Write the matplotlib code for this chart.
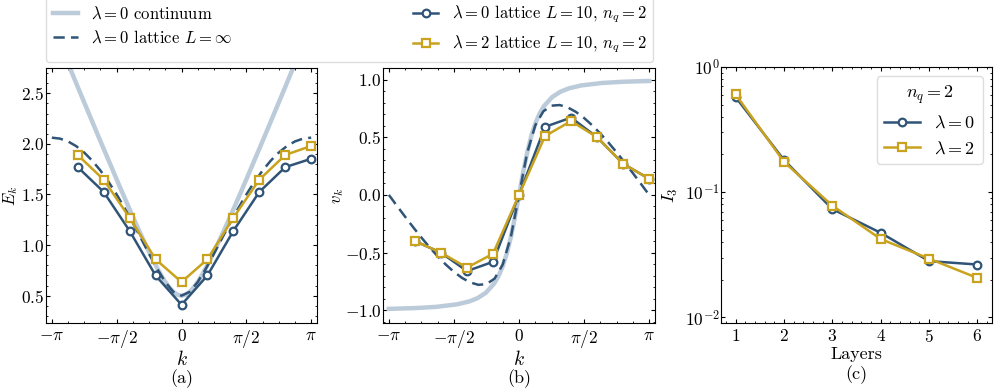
import numpy as np
import matplotlib
matplotlib.use("Agg")
import matplotlib.pyplot as plt
from matplotlib.ticker import MultipleLocator, AutoMinorLocator

plt.rcParams['font.family'] = ['cmr10', 'DejaVu Serif']
plt.rcParams['mathtext.fontset'] = 'cm'
plt.rcParams['axes.formatter.use_mathtext'] = True
plt.rcParams['font.size'] = 13
plt.rcParams['xtick.direction'] = 'in'
plt.rcParams['ytick.direction'] = 'in'
plt.rcParams['xtick.top'] = True
plt.rcParams['ytick.right'] = True
plt.rcParams['xtick.minor.visible'] = True
plt.rcParams['ytick.minor.visible'] = True
plt.rcParams['xtick.major.size'] = 3
plt.rcParams['ytick.major.size'] = 3
plt.rcParams['xtick.minor.size'] = 1.5
plt.rcParams['ytick.minor.size'] = 1.5

PI = np.pi

# continuum curves (lambda = 0)
k_cont = [-3.14159, -2.5, -2.0, -1.5, -1.2, -1.0, -0.8, -0.6, -0.5, -0.4, -0.3, -0.2, -0.1,
          0.0, 0.1, 0.2, 0.3, 0.4, 0.5, 0.6, 0.8, 1.0, 1.2, 1.5, 2.0, 2.5, 3.14159]
E_cont = [3.1811, 2.5495, 2.0616, 1.5811, 1.3, 1.1180, 0.9434, 0.7810, 0.7071, 0.6403, 0.5831, 0.5385, 0.5099,
          0.5, 0.5099, 0.5385, 0.5831, 0.6403, 0.7071, 0.7810, 0.9434, 1.1180, 1.3, 1.5811, 2.0616, 2.5495, 3.1811]
v_cont = [-0.9876, -0.9806, -0.9701, -0.9487, -0.9231, -0.8944, -0.8480, -0.7682, -0.7071, -0.6247, -0.5145, -0.3714, -0.1961,
          0.0, 0.1961, 0.3714, 0.5145, 0.6247, 0.7071, 0.7682, 0.8480, 0.8944, 0.9231, 0.9487, 0.9701, 0.9806, 0.9876]

# infinite lattice curves (lambda = 0), k = j*pi/16
k_inf = [j * PI / 16 for j in range(-16, 17)]
E_inf = [2.0616, 2.0522, 2.0243, 1.9781, 1.9142, 1.8333, 1.7365, 1.6249, 1.5, 1.3638, 1.2185, 1.0672, 0.9142,
         0.7662, 0.6342, 0.5371, 0.5, 0.5371, 0.6342, 0.7662, 0.9142, 1.0672, 1.2185, 1.3638, 1.5, 1.6249,
         1.7365, 1.8333, 1.9142, 1.9781, 2.0243, 2.0522, 2.0616]
v_inf = [0.0, -0.0951, -0.1890, -0.2809, -0.3694, -0.4535, -0.5320, -0.6036, -0.6667, -0.7192, -0.7582, -0.7791,
         -0.7735, -0.7251, -0.6034, -0.3632, 0.0, 0.3632, 0.6034, 0.7251, 0.7735, 0.7791, 0.7582, 0.7192, 0.6667,
         0.6036, 0.5320, 0.4535, 0.3694, 0.2809, 0.1890, 0.0951, 0.0]

# L = 10 lattice, n_q = 2
k_lat = [j * PI / 5 for j in range(-4, 6)]
E_lam0 = [1.77, 1.525, 1.14, 0.70, 0.41, 0.70, 1.14, 1.525, 1.77, 1.853]
E_lam2 = [1.89, 1.646, 1.27, 0.86, 0.635, 0.86, 1.27, 1.646, 1.89, 1.98]
v_lam0 = [-0.40, -0.50, -0.66, -0.58, 0.0, 0.59, 0.67, 0.50, 0.27, 0.14]
v_lam2 = [-0.40, -0.50, -0.63, -0.51, 0.0, 0.51, 0.64, 0.50, 0.27, 0.14]

# I3 vs layers
layers = [1, 2, 3, 4, 5, 6]
I3_lam0 = [0.576, 0.181, 0.0733, 0.0473, 0.0281, 0.0264]
I3_lam2 = [0.606, 0.175, 0.078, 0.0422, 0.0294, 0.0206]

c_cont = '#bccbda'
c_blue = '#2f5477'
c_gold = '#c9a21e'

W, H = 997, 391
fig = plt.figure(figsize=(W / 100, H / 100), dpi=100)

def box(l, r, t, b):
    return [l / W, 1 - b / H, (r - l) / W, (b - t) / H]

axa = fig.add_axes(box(46, 317, 68, 323))
axb = fig.add_axes(box(383, 655, 68, 323))
axc = fig.add_axes(box(721, 992, 67, 323))

mk = dict(markersize=5.5, markerfacecolor='white', markeredgewidth=1.6, linewidth=1.8)
dash = (0, (4.5, 2.5))

# (a)
l1, = axa.plot(k_cont, E_cont, color=c_cont, lw=3.2, label=r'$\lambda=0$ continuum')
l2, = axa.plot(k_inf, E_inf, color=c_blue, lw=1.8, ls=dash, label=r'$\lambda=0$ lattice $L=\infty$')
l3, = axa.plot(k_lat, E_lam0, color=c_blue, marker='o', label=r'$\lambda=0$ lattice $L=10$, $n_q=2$', **mk)
l4, = axa.plot(k_lat, E_lam2, color=c_gold, marker='s', label=r'$\lambda=2$ lattice $L=10$, $n_q=2$', **mk)
axa.set_ylim(0.23, 2.75)
axa.set_ylabel(r'$E_k$', fontsize=12)
axa.yaxis.set_label_coords(-0.095, 0.5)
axa.yaxis.set_major_locator(MultipleLocator(0.5))
axa.yaxis.set_minor_locator(MultipleLocator(0.1))

# (b)
axb.plot(k_cont, v_cont, color=c_cont, lw=3.2)
axb.plot(k_inf, v_inf, color=c_blue, lw=1.8, ls=dash)
axb.plot(k_lat, v_lam0, color=c_blue, marker='o', **mk)
axb.plot(k_lat, v_lam2, color=c_gold, marker='s', **mk)
axb.set_ylim(-1.11, 1.1)
axb.set_ylabel(r'$v_k$', fontsize=12)
axb.yaxis.set_label_coords(-0.135, 0.5)
axb.yaxis.set_major_locator(MultipleLocator(0.5))
axb.yaxis.set_minor_locator(MultipleLocator(0.1))

for ax, lab in [(axa, '(a)'), (axb, '(b)')]:
    ax.set_xlim(-1.045 * PI, 1.045 * PI)
    ax.set_xticks([-PI, -PI / 2, 0, PI / 2, PI])
    ax.set_xticklabels([r'$-\pi$', r'$-\pi/2$', r'$0$', r'$\pi/2$', r'$\pi$'])
    ax.xaxis.set_minor_locator(MultipleLocator(PI / 8))
    ax.set_xlabel(r'$k$', fontsize=14, labelpad=0)
    ax.text(0.5, -0.218, lab, transform=ax.transAxes, ha='center', va='center', fontsize=13)

# (c)
axc.plot(layers, I3_lam0, color=c_blue, marker='o', label=r'$\lambda=0$', **mk)
axc.plot(layers, I3_lam2, color=c_gold, marker='s', label=r'$\lambda=2$', **mk)
axc.set_yscale('log')
axc.set_ylim(0.009, 1.0)
axc.set_xlim(0.7, 6.3)
axc.set_xticks(layers)
axc.xaxis.set_minor_locator(AutoMinorLocator(5))
axc.set_ylabel(r'$I_3$', fontsize=13)
axc.yaxis.set_label_coords(-0.15, 0.5)
axc.set_xlabel('Layers', fontsize=13, labelpad=1)
axc.text(0.5, -0.2, '(c)', transform=axc.transAxes, ha='center', va='center', fontsize=13)
axc.legend(title=r'$n_q=2$', loc='upper right', fontsize=13, title_fontsize=13,
           handlelength=2.0, edgecolor='#dddddd', framealpha=1.0)

for ax in (axa, axb, axc):
    ax.tick_params(labelsize=12.5)
    ax.tick_params(axis='y', which='both', pad=1)

fig.legend(handles=[l1, l2, l3, l4], loc='lower left',
           bbox_to_anchor=(46 / W, 1 - 62 / H, (653 - 46) / W, 0.1),
           mode='expand', ncol=2, fontsize=12, handlelength=1.5,
           edgecolor='#dddddd', framealpha=1.0, borderaxespad=0)

fig.savefig('out.png', dpi=100)
